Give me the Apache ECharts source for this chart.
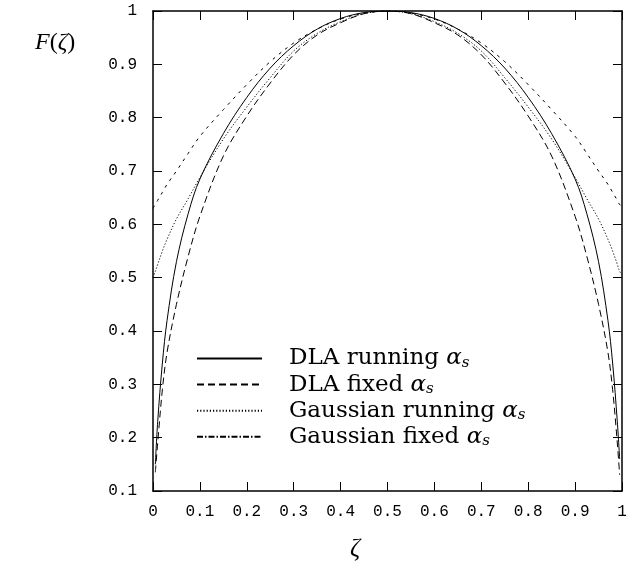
<!DOCTYPE html>
<html>
<head>
<meta charset="utf-8">
<script src="https://cdn.jsdelivr.net/npm/echarts@6/dist/echarts.min.js"></script>
<style>
  html, body { margin: 0; padding: 0; background: #fff; }
  #chart { width: 638px; height: 578px; }
</style>
</head>
<body>
<div id="chart"></div>
<script>
// zeta grid (x values)
var zeta = [0, 0.005, 0.01, 0.02, 0.03, 0.05, 0.075, 0.1, 0.15, 0.2, 0.25, 0.3, 0.35, 0.4, 0.45, 0.5,
            0.55, 0.6, 0.65, 0.7, 0.75, 0.8, 0.85, 0.9, 0.925, 0.95, 0.97, 0.98, 0.99, 0.995, 1];

// values
var dlaRunning = [null, 0.15, 0.23, 0.34, 0.42, 0.53, 0.62, 0.685, 0.77, 0.838, 0.893, 0.935, 0.966, 0.986, 0.997, 1,
                  0.997, 0.986, 0.966, 0.935, 0.893, 0.838, 0.77, 0.685, 0.62, 0.53, 0.42, 0.34, 0.23, 0.16, null];
var dlaFixed = [null, 0.135, 0.19, 0.29, 0.36, 0.45, 0.54, 0.615, 0.728, 0.803, 0.865, 0.918, 0.955, 0.978, 0.995, 1,
                0.995, 0.978, 0.955, 0.918, 0.865, 0.803, 0.728, 0.615, 0.54, 0.45, 0.36, 0.29, 0.19, 0.13, null];
var gaussRunning = [0.5, 0.512, 0.525, 0.55, 0.572, 0.61, 0.648, 0.688, 0.76, 0.82, 0.875, 0.925, 0.958, 0.98, 0.995, 1,
                    0.995, 0.98, 0.958, 0.925, 0.875, 0.82, 0.76, 0.688, 0.648, 0.61, 0.572, 0.55, 0.525, 0.512, 0.505];
var gaussFixed = [0.63, 0.637, 0.645, 0.66, 0.675, 0.70, 0.733, 0.765, 0.815, 0.862, 0.905, 0.94, 0.966, 0.985, 0.996, 1,
                  0.996, 0.985, 0.966, 0.94, 0.905, 0.862, 0.815, 0.765, 0.733, 0.70, 0.675, 0.66, 0.645, 0.637, 0.635];

var xTicks = [0, 0.1, 0.2, 0.3, 0.4, 0.5, 0.6, 0.7, 0.8, 0.9, 1];
var yTicks = [0.1, 0.2, 0.3, 0.4, 0.5, 0.6, 0.7, 0.8, 0.9, 1];

var names = ['DLA running', 'DLA fixed', 'Gaussian running', 'Gaussian fixed'];

function pairs(ys) {
  return zeta.map(function (x, i) { return [x, ys[i]]; });
}

var serif = 'DejaVu Serif';
var mono = 'Liberation Mono';

var chart = echarts.init(document.getElementById('chart'));

var axisCommon = {
  type: 'value',
  interval: 0.1,
  axisLine: { show: true, onZero: false, lineStyle: { color: '#000', width: 1.5 } },
  axisTick: { show: true, inside: true, length: 9, lineStyle: { color: '#000', width: 1 } },
  splitLine: { show: false }
};

function lineSeries(name, ys, dash, width) {
  return {
    name: name,
    type: 'line',
    data: pairs(ys),
    symbol: 'none',
    smooth: 0.35,
    animation: false,
    itemStyle: { color: '#000' },
    lineStyle: { color: '#000', width: width || 1, type: dash }
  };
}

chart.setOption({
  animation: false,
  color: ['#000'],
  grid: { left: 153, right: 16, top: 11, bottom: 87 },
  xAxis: [
    Object.assign({}, axisCommon, {
      min: xTicks[0], max: xTicks[xTicks.length - 1], position: 'bottom',
      axisLabel: { color: '#000', fontFamily: mono, fontSize: 16, margin: 13 }
    }),
    Object.assign({}, axisCommon, {
      min: xTicks[0], max: xTicks[xTicks.length - 1], position: 'top',
      axisLabel: { show: false }
    })
  ],
  yAxis: [
    Object.assign({}, axisCommon, {
      min: yTicks[0], max: yTicks[yTicks.length - 1], position: 'left',
      axisLabel: { color: '#000', fontFamily: mono, fontSize: 16, margin: 16 }
    }),
    Object.assign({}, axisCommon, {
      min: yTicks[0], max: yTicks[yTicks.length - 1], position: 'right',
      axisLabel: { show: false }
    })
  ],
  legend: {
    orient: 'vertical',
    left: 191,
    top: 342,
    itemWidth: 65,
    itemHeight: 20,
    itemGap: 2.6,
    itemStyle: { color: 'rgba(0,0,0,0)', borderWidth: 0, opacity: 0 },
    data: [
      { name: names[0], lineStyle: { width: 1.8 } },
      { name: names[1] },
      { name: names[2] },
      { name: names[3], lineStyle: { type: [6, 2, 1.5, 2] } }
    ],
    formatter: function (n) {
      return '{n|' + n + ' }{a|α}{s|s}';
    },
    textStyle: {
      padding: [0, 0, 0, 22],
      rich: {
        n: { fontFamily: serif, fontSize: 23, color: '#000', lineHeight: 24 },
        a: { fontFamily: serif, fontSize: 23, fontStyle: 'italic', color: '#000', lineHeight: 24 },
        s: { fontFamily: serif, fontSize: 15, fontStyle: 'italic', color: '#000', lineHeight: 14, verticalAlign: 'bottom' }
      }
    }
  },
  graphic: [
    {
      type: 'text', left: 35, top: 31,
      style: {
        text: '{i|F}{n|(}{i|ζ}{n|)}',
        rich: {
          i: { fontFamily: 'Liberation Serif', fontSize: 24, fontStyle: 'italic', fill: '#000' },
          n: { fontFamily: 'Liberation Serif', fontSize: 24, fill: '#000' }
        }
      }
    },
    {
      type: 'text', left: 350, top: 537,
      style: { text: 'ζ', fontFamily: 'Liberation Serif', fontSize: 25, fontStyle: 'italic', fill: '#000' }
    }
  ],
  series: [
    lineSeries(names[0], dlaRunning, 'solid', 1),
    lineSeries(names[1], dlaFixed, [7, 4], 1),
    lineSeries(names[2], gaussRunning, [1.2, 2], 1),
    lineSeries(names[3], gaussFixed, [3, 5], 1)
  ]
});
</script>
</body>
</html>
